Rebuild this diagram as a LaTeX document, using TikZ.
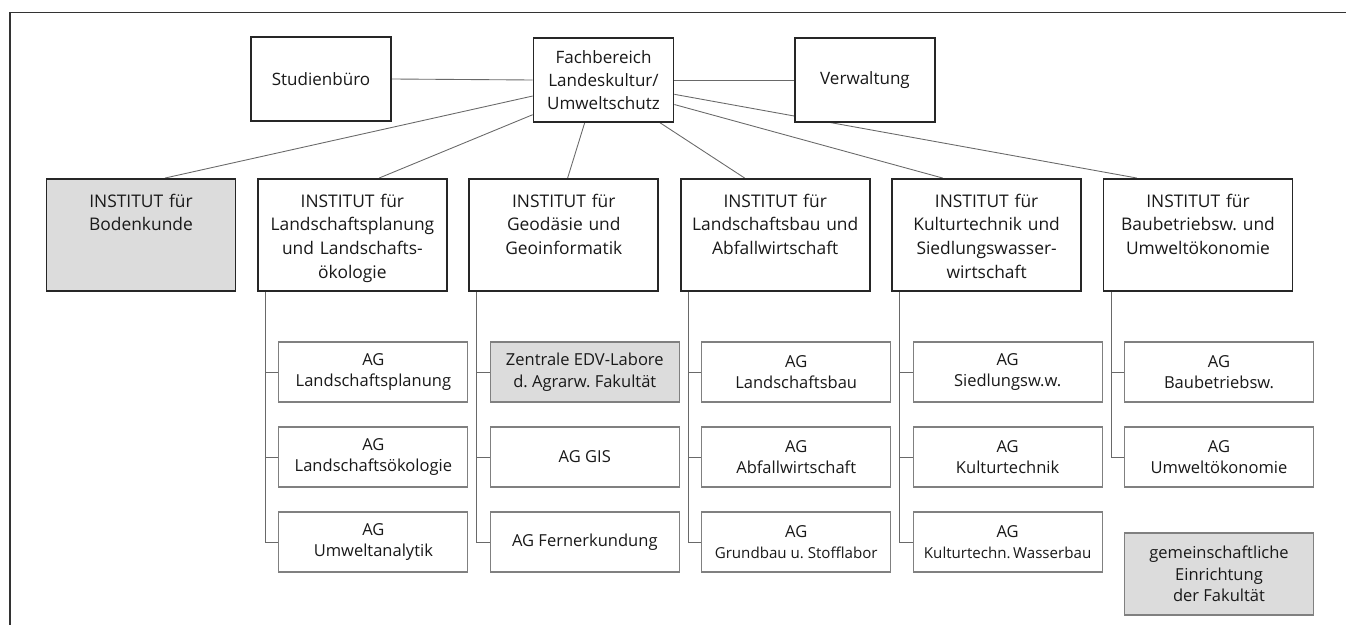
\documentclass[tikz,border=0pt]{standalone}
\usepackage{fontspec}
\setmainfont{Open Sans}
\usetikzlibrary{calc,backgrounds}
\frenchspacing

\definecolor{boxgray}{RGB}{220,220,220}
\definecolor{linegray}{RGB}{105,105,105}
\definecolor{textdark}{RGB}{25,25,25}

\begin{document}
\begin{tikzpicture}[x=0.02cm, y=-0.02cm, text=textdark,
  topbox/.style={draw=black!85, line width=1pt, fill=white, minimum width=2.8cm, minimum height=1.68cm, align=center, font=\fontsize{9.7}{13}\selectfont},
  inst/.style={draw=black!85, line width=1.1pt, fill=white, inner sep=0pt, text width=3.78cm, align=center, text height=0.56cm, text depth=1.68cm, font=\fontsize{9.9}{13.6}\selectfont},
  agbox/.style={draw=black!50, line width=0.6pt, fill=white, minimum width=3.78cm, minimum height=1.2cm, align=center, font=\fontsize{9.4}{12.3}\selectfont},
  shaded/.style={fill=boxgray},
  conn/.style={draw=linegray, line width=0.5pt}]
\useasboundingbox (0,0) rectangle (1346,625);

% Frame
\draw[black!80, line width=0.8pt] (1346,12.7) -- (9.8,12.7) -- (9.8,625);

% Top row
\node[topbox] (stud) at (321,79) {Studienbüro};
\node[topbox] (fb) at (603.5,80) {Fachbereich\\Landeskultur/\\Umweltschutz};
\node[topbox] (verw) at (865,80) {Verwaltung};

% Institutes
\node[inst, shaded] (bod) at (141,235) {INSTITUT für\\Bodenkunde};
\node[inst] (lpl) at (352.4,235) {INSTITUT für\\Landschaftsplanung\\und Landschafts-\\ökologie};
\node[inst] (geo) at (563.8,235) {INSTITUT für\\Geodäsie und\\Geoinformatik};
\node[inst] (lbau) at (775.2,235) {INSTITUT für\\Landschaftsbau und\\Abfallwirtschaft};
\node[inst] (kult) at (986.6,235) {INSTITUT für\\Kulturtechnik und\\Siedlungswasser-\\wirtschaft};
\node[inst] (bau) at (1198,235) {INSTITUT für\\Baubetriebsw. und\\Umweltökonomie};

% Working groups
\node[agbox] (lp1) at (373.4,372) {AG\\Landschaftsplanung};
\node[agbox] (lp2) at (373.4,457) {AG\\Landschaftsökologie};
\node[agbox] (lp3) at (373.4,542) {AG\\Umweltanalytik};

\node[agbox, shaded] (geo1) at (584.8,372) {Zentrale EDV-Labore\\d. Agrarw. Fakultät};
\node[agbox] (geo2) at (584.8,457) {AG GIS};
\node[agbox] (geo3) at (584.8,542) {AG Fernerkundung};

\node[agbox] (lb1) at (796.2,372) {AG\\Landschaftsbau};
\node[agbox] (lb2) at (796.2,457) {AG\\Abfallwirtschaft};
\node[agbox] (lb3) at (796.2,542) {AG\\{\fontsize{8.6}{12.3}\selectfont Grundbau u. Stofflabor}};

\node[agbox] (ku1) at (1007.6,372) {AG\\Siedlungsw.w.};
\node[agbox] (ku2) at (1007.6,457) {AG\\Kulturtechnik};
\node[agbox] (ku3) at (1007.6,542) {AG\\{\fontsize{8.6}{12.3}\selectfont Kulturtechn.\,Wasserbau}};

\node[agbox] (ba1) at (1219,372) {AG\\Baubetriebsw.};
\node[agbox] (ba2) at (1219,457) {AG\\Umweltökonomie};

\node[agbox, shaded, minimum height=1.64cm] (gem) at (1219,574) {gemeinschaftliche\\Einrichtung\\der Fakultät};

% Connectors
\begin{scope}[on background layer]
\draw[conn] (fb.west) -- (stud.east);
\draw[conn] (fb.east) -- (verw.west);
\draw[conn] ($(fb.north west)!0.687!(fb.south west)$) -- ($(bod.north west)!0.626!(bod.north east)$);
\draw[conn] ($(fb.north west)!0.905!(fb.south west)$) -- ($(lpl.north west)!0.64!(lpl.north east)$);
\draw[conn] ($(fb.south west)!0.367!(fb.south east)$) -- ($(geo.north west)!0.52!(geo.north east)$);
\draw[conn] ($(fb.south west)!0.9!(fb.south east)$) -- ($(lbau.north west)!0.34!(lbau.north east)$);
\draw[conn] ($(fb.north east)!0.786!(fb.south east)$) -- ($(kult.north west)!0.27!(kult.north east)$);
\draw[conn] ($(fb.north east)!0.667!(fb.south east)$) -- ($(bau.north west)!0.18!(bau.north east)$);

\draw[conn] ($(lpl.south west)+(8.5,0)$) |- (lp1.west);
\draw[conn] ($(lpl.south west)+(8.5,0)$) |- (lp2.west);
\draw[conn] ($(lpl.south west)+(8.5,0)$) |- (lp3.west);

\draw[conn] ($(geo.south west)+(8.5,0)$) |- (geo1.west);
\draw[conn] ($(geo.south west)+(8.5,0)$) |- (geo2.west);
\draw[conn] ($(geo.south west)+(8.5,0)$) |- (geo3.west);

\draw[conn] ($(lbau.south west)+(8.5,0)$) |- (lb1.west);
\draw[conn] ($(lbau.south west)+(8.5,0)$) |- (lb2.west);
\draw[conn] ($(lbau.south west)+(8.5,0)$) |- (lb3.west);

\draw[conn] ($(kult.south west)+(8.5,0)$) |- (ku1.west);
\draw[conn] ($(kult.south west)+(8.5,0)$) |- (ku2.west);
\draw[conn] ($(kult.south west)+(8.5,0)$) |- (ku3.west);

\draw[conn] ($(bau.south west)+(8.5,0)$) |- (ba1.west);
\draw[conn] ($(bau.south west)+(8.5,0)$) |- (ba2.west);
\end{scope}
\end{tikzpicture}
\end{document}
